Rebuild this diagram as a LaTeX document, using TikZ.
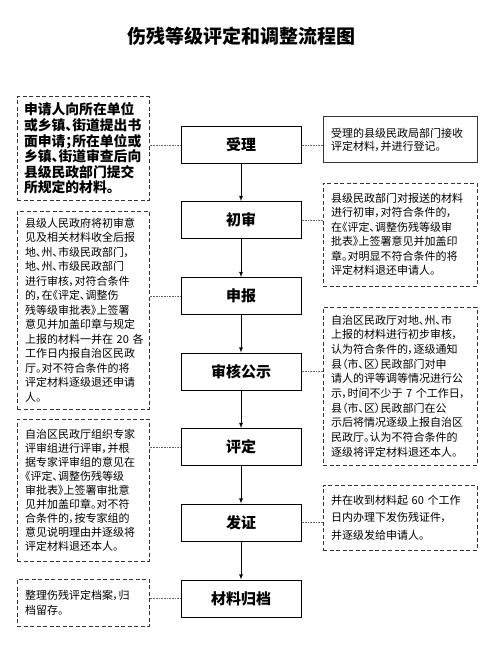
\documentclass[tikz,border=0pt]{standalone}
\usepackage{fontspec}
\setmainfont[RawFeature=+palt]{Noto Sans CJK SC}

\begin{document}
\begin{tikzpicture}[>=latex, x=1pt, y=-1pt,
	mid/.style={draw, line width=1pt, minimum width=120pt, minimum height=37pt,
		inner sep=0pt, font=\fontsize{15}{15}\selectfont\bfseries},
	note/.style={draw=black!80, dash pattern=on 4pt off 2.5pt, line width=1pt,
		align=left, inner xsep=8pt, inner ysep=0pt,
		font=\fontsize{11}{14.5}\selectfont},
	lnote/.style={note, text width=116pt},
	rnote/.style={note, text width=138pt},
	link/.style={black!60, line width=.6pt, dash pattern=on .8pt off .8pt}]
	
	\useasboundingbox (0,0) rectangle (500,655);
	
	% 标题
	\node[font=\fontsize{19}{19}\selectfont\bfseries] (title) at (241,36) {伤残等级评定和调整流程图};
	
	% 中间流程
	\node[mid] (shouli) at (241,145) {受理};
	\node[mid] (chushen) at (241,220) {初审};
	\node[mid] (shenbao) at (241,296) {申报};
	\node[mid] (gongshi) at (241,371.5) {审核公示};
	\node[mid] (pingding) at (241,447) {评定};
	\node[mid] (fazheng) at (241,522.5) {发证};
	\node[mid] (guidang) at (241,598.5) {材料归档};
	
	% 左侧说明
	\node[lnote, minimum height=103pt, text width=118pt, inner xsep=7pt,
		font=\fontsize{13.8}{15.6}\selectfont\bfseries] (l1) at (83,148.5)
	{申请人向所在单位\\或乡镇、街道提出书\\面申请；所在单位或\\乡镇、街道审查后向\\县级民政部门提交\\所规定的材料。};
	\node[lnote, minimum height=198pt] (l2) at (83,310)
	{县级人民政府将初审意\\见及相关材料收全后报\\地、州、市级民政部门，\\地、州、市级民政部门\\进行审核，对符合条件\\的，在《评定、调整伤\\残等级审批表》上签署\\意见并加盖印章与规定\\上报的材料一并在~20~各\\工作日内报自治区民政\\厅。对不符合条件的将\\评定材料逐级退还申请\\人。};
	\node[lnote, minimum height=142pt, font=\fontsize{11}{14}\selectfont] (l3) at (83,490)
	{自治区民政厅组织专家\\评审组进行评审，并根\\据专家评审组的意见在\\《评定、调整伤残等级\\审批表》上签署审批意\\见并加盖印章。对不符\\合条件的，按专家组的\\意见说明理由并逐级将\\评定材料退还本人。};
	\node[lnote, minimum height=47pt, font=\fontsize{11}{15}\selectfont] (l4) at (83,602.5)
	{整理伤残评定档案，归\\档留存。};
	
	% 右侧说明
	\node[rnote, solid, minimum height=46pt, font=\fontsize{11}{13.3}\selectfont] (r1) at (400,140)
	{受理的县级民政局部门接收\\评定材料，并进行登记。};
	\node[rnote, minimum height=103pt] (r2) at (400,234.5)
	{县级民政部门对报送的材料\\进行初审，对符合条件的，\\在《评定、调整伤残等级审\\批表》上签署意见并加盖印\\章。对明显不符合条件的将\\评定材料退还申请人。};
	\node[rnote, minimum height=158pt, font=\fontsize{11}{14.7}\selectfont] (r3) at (400,386)
	{自治区民政厅对地、州、市\\上报的材料进行初步审核，\\认为符合条件的，逐级通知\\县（市、区）民政部门对申\\请人的评等调等情况进行公\\示，时间不少于~7~个工作日，\\县（市、区）民政部门在公\\示后将情况逐级上报自治区\\民政厅。认为不符合条件的\\逐级将评定材料退还本人。};
	\node[rnote, minimum height=65pt, font=\fontsize{11}{17.5}\selectfont] (r4) at (400,517.5)
	{并在收到材料起~60~个工作\\日内办理下发伤残证件，\\并逐级发给申请人。};
	
	% 流程箭头
	\draw[->, line width=.8pt] (shouli) -- (chushen);
	\draw[->, line width=.8pt] (chushen) -- (shenbao);
	\draw[->, line width=.8pt] (shenbao) -- (gongshi);
	\draw[->, line width=.8pt] (gongshi) -- (pingding);
	\draw[->, line width=.8pt] (pingding) -- (fazheng);
	\draw[->, line width=.8pt] (fazheng) -- (guidang);
	
	% 虚线连接
	\draw[link] (shouli.west) -- (shouli.west -| l1.east);
	\draw[link] (shenbao.west) -- (shenbao.west -| l2.east);
	\draw[link] (pingding.west) -- (pingding.west -| l3.east);
	\draw[link] (guidang.west) -- (guidang.west -| l4.east);
	\draw[link] (shouli.east) -- (shouli.east -| r1.west);
	\draw[link] (chushen.east) -- (chushen.east -| r2.west);
	\draw[link] (gongshi.east) -- (gongshi.east -| r3.west);
	\draw[link] (fazheng.east) -- (fazheng.east -| r4.west);
	
\end{tikzpicture}
\end{document}
